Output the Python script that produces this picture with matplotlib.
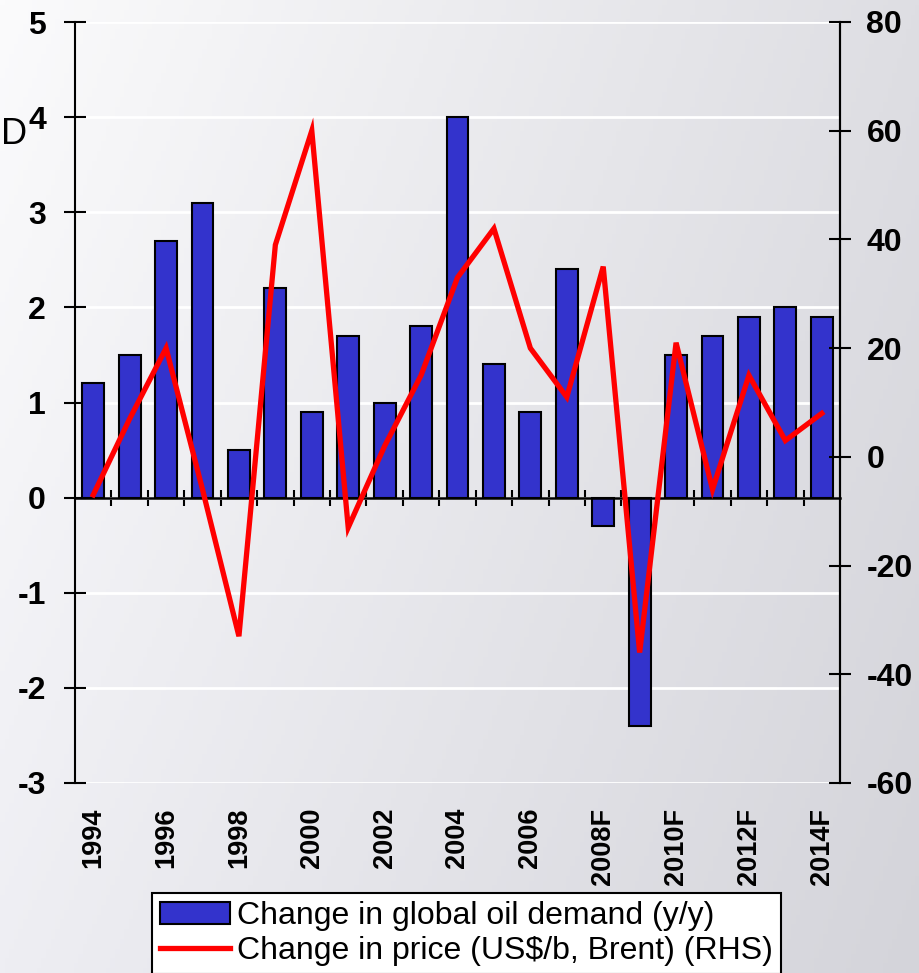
import numpy as np
import matplotlib
matplotlib.use('Agg')
import matplotlib.pyplot as plt
from matplotlib.patches import Patch
from matplotlib.lines import Line2D

plt.rcParams['axes.unicode_minus'] = False

years = ['1994', '1995', '1996', '1997', '1998', '1999', '2000', '2001', '2002', '2003',
         '2004', '2005', '2006', '2007', '2008F', '2009', '2010F', '2011', '2012F', '2013', '2014F']
demand = [1.2, 1.5, 2.7, 3.1, 0.5, 2.2, 0.9, 1.7, 1.0, 1.8,
          4.0, 1.4, 0.9, 2.4, -0.3, -2.4, 1.5, 1.7, 1.9, 2.0, 1.9]
price = [-7, 7, 20, -6, -33, 39, 60, -13, 2, 15,
         33, 42, 20, 11, 35, -36, 21, -6, 15, 3, 8]
left_ticks = [-3, -2, -1, 0, 1, 2, 3, 4, 5]
right_ticks = [-60, -40, -20, 0, 20, 40, 60, 80]

fam = ['Liberation Sans', 'DejaVu Sans']

fig = plt.figure(figsize=(9.2, 9.73), dpi=100)

# gradient background
bg = fig.add_axes([0, 0, 1, 1], zorder=-5)
tl = np.array([251, 251, 252]) / 255
tr = np.array([222, 222, 227]) / 255
bl = np.array([238, 238, 243]) / 255
br = np.array([212, 212, 218]) / 255
u = np.linspace(0, 1, 200)[None, :, None]
v = np.linspace(0, 1, 200)[:, None, None]
img = (1 - u) * (1 - v) * tl + u * (1 - v) * tr + (1 - u) * v * bl + u * v * br
bg.imshow(img, aspect='auto', extent=[0, 1, 0, 1], origin='upper')
bg.axis('off')

ax = fig.add_axes([75 / 920, 1 - 783 / 973, 765 / 920, 761 / 973])
ax.set_facecolor('none')
x = np.arange(len(years))

ax.bar(x, demand, width=0.6, color='#3333CC', edgecolor='black', linewidth=1.5, zorder=3)
ax.set_xlim(-0.5, len(years) - 0.5)
ax.set_ylim(-3, 5)
ax.set_yticks(left_ticks)
ax.grid(axis='y', color='white', linewidth=2, zorder=0)
ax.set_axisbelow(True)

ax.spines['top'].set_visible(False)
ax.spines['left'].set_linewidth(1.5)
ax.spines['right'].set_linewidth(1.5)

# x axis line sits on zero, with ticks at category boundaries
ax.spines['bottom'].set_position(('data', 0))
ax.spines['bottom'].set_linewidth(1.8)
ax.spines['bottom'].set_zorder(4)
ax.set_xticks([])
ax.set_xticks(np.arange(0.5, len(years) - 1, 1), minor=True)
ax.tick_params(axis='x', which='minor', direction='inout', length=12, width=1.5)

ax.tick_params(axis='y', direction='inout', length=16, width=1.5, pad=13, labelsize=23)
for lbl in ax.get_yticklabels():
    lbl.set_fontfamily(fam)
    lbl.set_fontweight('bold')

# year labels at the bottom of the plot
lab = ax.secondary_xaxis('bottom')
lab.spines['bottom'].set_visible(False)
lab.set_xticks(x[::2])
lab.set_xticklabels(years[::2], rotation=90, fontsize=19.5, fontweight='bold', family=fam, va='top')
lab.tick_params(axis='x', length=0, pad=18)

ax2 = ax.twinx()
ax2.plot(x, price, color='#FF0000', linewidth=3.8, solid_joinstyle='miter', zorder=5)
ax2.set_ylim(-60, 80)
ax2.set_yticks(right_ticks)
for s in ['top', 'bottom', 'left']:
    ax2.spines[s].set_visible(False)
ax2.spines['right'].set_linewidth(1.5)
ax2.tick_params(axis='y', direction='inout', length=16, width=1.5, pad=11, labelsize=23)
for lbl in ax2.get_yticklabels():
    lbl.set_fontfamily(fam)
    lbl.set_fontweight('bold')

handles = [Patch(facecolor='#3333CC', edgecolor='black', linewidth=1.5),
           Line2D([0], [0], color='#FF0000', linewidth=3.8)]
labels = ['Change in global oil demand (y/y)', 'Change in price (US$/b, Brent) (RHS)']
leg = fig.legend(handles, labels, loc='upper left', bbox_to_anchor=(152 / 920, 1 - 893 / 973),
                 bbox_transform=fig.transFigure, fancybox=False, framealpha=1,
                 edgecolor='black', prop={'family': fam, 'size': 23},
                 handlelength=2.2, handletextpad=0.2, borderpad=0.25, labelspacing=0.15,
                 borderaxespad=0)
leg.get_frame().set_linewidth(1.5)

# left axis label remnant
fig.text(0.5 / 920, 1 - 134 / 973, 'D', ha='left', va='center', fontsize=26, family=fam)

fig.savefig('out.png', dpi=100)
